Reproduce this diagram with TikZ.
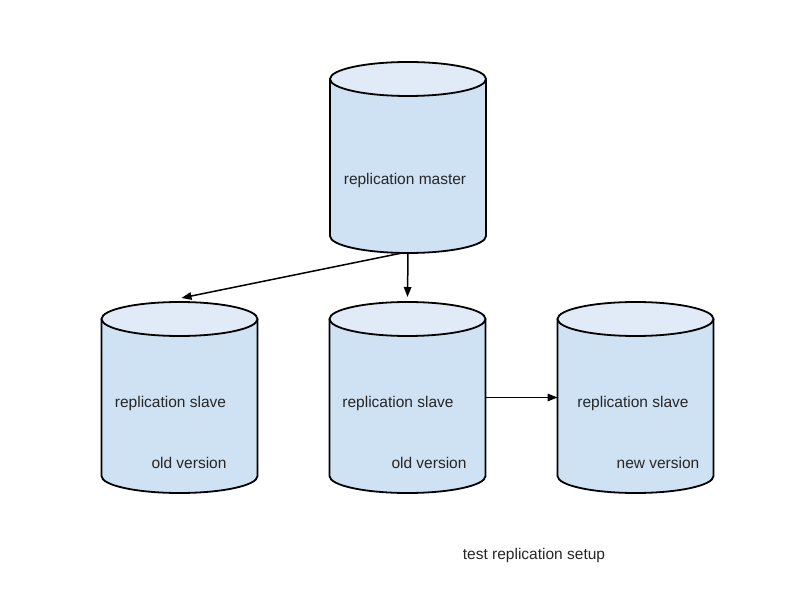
\documentclass[tikz,border=0pt]{standalone}
\usepackage{fontspec}
\setmainfont{Liberation Sans}
\usetikzlibrary{arrows.meta}
\definecolor{bodyblue}{RGB}{207,226,243}
\definecolor{topblue}{RGB}{224,235,247}
\tikzset{
  cylnode/.style={minimum width=156pt, minimum height=191pt, inner sep=0pt, outer sep=0pt},
  lbl/.style={font=\fontsize{15.5pt}{18pt}\selectfont, text=black!85, inner sep=0pt},
  arr/.style={line width=1.5pt, -{Triangle[length=10pt,width=7.5pt]}},
  cyl/.pic={
    \fill[bodyblue] (-78,78.5) -- (-78,-78.5) arc[start angle=180,end angle=360,x radius=78,y radius=17] -- (78,78.5) -- cycle;
    \draw[line width=1.8pt] (-78,78.5) -- (-78,-78.5) arc[start angle=180,end angle=360,x radius=78,y radius=17] -- (78,78.5);
    \filldraw[fill=topblue, line width=1.8pt] (0,78.5) ellipse[x radius=78, y radius=17];
  }
}
\begin{document}
\begin{tikzpicture}[x=1pt,y=1pt]
\useasboundingbox (0,0) rectangle (800,600);
% cylinders
\pic at (408,442.5) {cyl};
\pic at (179.5,202.5) {cyl};
\pic at (407.5,202.5) {cyl};
\pic at (635.5,202.5) {cyl};
\node[cylnode] (m) at (408,442.5) {};
\node[cylnode] (l) at (179.5,202.5) {};
\node[cylnode] (c) at (407.5,202.5) {};
\node[cylnode] (r) at (635.5,202.5) {};
% labels
\node[lbl] (mt) at (405,420) {replication master};
\node[lbl] (lt1) at (170.5,197) {replication slave};
\node[lbl] (lt2) at (189,137) {old version};
\node[lbl] (ct1) at (398,197) {replication slave};
\node[lbl] (ct2) at (429,137) {old version};
\node[lbl] (rt1) at (633,197) {replication slave};
\node[lbl] (rt2) at (658,137) {new version};
\node[lbl] (cap) at (534,45) {test replication setup};
% arrows
\draw[arr] (m.south) -- ([yshift=5pt]c.north);
\draw[arr] ([xshift=-6pt]m.south) -- ([xshift=2pt,yshift=4pt]l.north);
\draw[arr] (c.east) -- (r.west);
\end{tikzpicture}
\end{document}
